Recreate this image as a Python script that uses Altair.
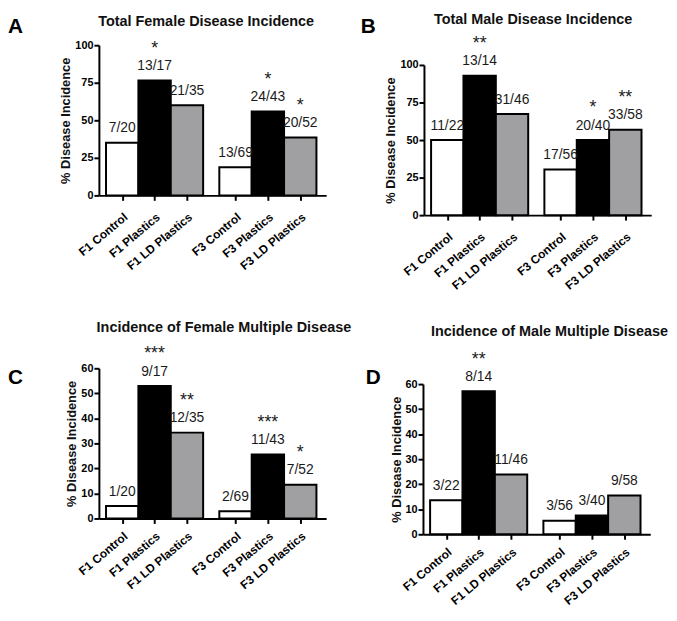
import altair as alt
import pandas as pd

FONT = "Liberation Sans"

categories = ["F1 Control", "F1 Plastics", "F1 LD Plastics",
              "F3 Control", "F3 Plastics", "F3 LD Plastics"]
treatments = ["Control", "Plastics", "LD Plastics",
              "Control", "Plastics", "LD Plastics"]
generations = ["F1", "F1", "F1", "F3", "F3", "F3"]

# Panel A: Total Female Disease Incidence
a_pct = [35.0, 76.5, 60.0, 18.8, 55.8, 38.5]
a_frac = ["7/20", "13/17", "21/35", "13/69", "24/43", "20/52"]
a_sig = ["", "*", "", "", "*", "*"]

# Panel B: Total Male Disease Incidence
b_pct = [50.0, 92.9, 67.4, 30.4, 50.0, 56.9]
b_frac = ["11/22", "13/14", "31/46", "17/56", "20/40", "33/58"]
b_sig = ["", "**", "", "", "*", "**"]

# Panel C: Incidence of Female Multiple Disease
c_pct = [5.0, 52.9, 34.3, 2.9, 25.6, 13.5]
c_frac = ["1/20", "9/17", "12/35", "2/69", "11/43", "7/52"]
c_sig = ["", "***", "**", "", "***", "*"]

# Panel D: Incidence of Male Multiple Disease
d_pct = [13.6, 57.1, 23.9, 5.4, 7.5, 15.5]
d_frac = ["3/22", "8/14", "11/46", "3/56", "3/40", "9/58"]
d_sig = ["", "**", "", "", "", ""]

ticks_total = [0, 25, 50, 75, 100]
ticks_multi = [0, 10, 20, 30, 40, 50, 60]

fill_domain = ["Control", "Plastics", "LD Plastics"]
fill_range = ["white", "black", "#a0a0a2"]

W, PLOT_H = 230, 152
X_DOMAIN = [-0.22, 6.8]

# bar slots: bars in a group touch, half-bar gap between the two generations
starts = [i + (0.5 if g == "F3" else 0.0) for i, g in enumerate(generations)]
centers = [s + 0.5 for s in starts]

label_expr = ""
for c, name in zip(centers[:-1], categories[:-1]):
    label_expr += f"datum.value < {c + 0.25} ? '{name}' : "
label_expr += f"'{categories[-1]}'"


def panel(letter, title, pct, frac, sig, ymax, yticks, top_off,
          title_x, title_y, letter_x, letter_y, label_pad):
    df = pd.DataFrame({
        "cat": categories,
        "treat": treatments,
        "x0": starts,
        "x1": [s + 1 for s in starts],
        "xc": centers,
        "pct": pct,
        "frac": frac,
        "sig": sig,
    })
    H = PLOT_H + top_off
    xs = alt.Scale(domain=X_DOMAIN, nice=False, zero=False)
    ys = alt.Scale(domain=[0, ymax], nice=False, range=[H, top_off])
    x_axis = alt.Axis(
        values=centers, labelExpr=label_expr, labelAngle=-40,
        labelFont=FONT, labelFontWeight="bold", labelFontSize=12,
        labelPadding=label_pad, labelColor="black", tickSize=5, tickWidth=2,
        labelOverlap=False, labelFlush=False, labelBound=False,
        tickColor="black", domainColor="black", domainWidth=2, grid=False)
    y_axis = alt.Axis(
        values=yticks, labelFont=FONT, labelFontWeight="bold", labelFontSize=11,
        labelColor="black", labelPadding=1, tickSize=5, tickWidth=2,
        labelOverlap=False, labelFlush=False,
        tickColor="black", domainColor="black", domainWidth=2, grid=False,
        titleFont=FONT, titleFontSize=13, titleFontWeight="bold",
        titleColor="#111111", titlePadding=2)
    ytitle = "% Disease Incidence"
    base = alt.Chart(df)
    bars = base.mark_bar(stroke="black", strokeWidth=2).encode(
        x=alt.X("x0:Q", scale=xs, title=None, axis=x_axis),
        x2="x1:Q",
        y=alt.Y("pct:Q", scale=ys, stack=None, title=ytitle, axis=y_axis),
        y2=alt.datum(0),
        fill=alt.Fill("treat:N", scale=alt.Scale(domain=fill_domain, range=fill_range), legend=None),
    )
    fr = base.mark_text(font=FONT, fontSize=14, dy=-10.5, baseline="alphabetic",
                        color="#1a1a1a").encode(
        x=alt.X("xc:Q", scale=xs, title=None, axis=x_axis),
        y=alt.Y("pct:Q", scale=ys, title=ytitle, axis=y_axis),
        text="frac:N")
    st = base.mark_text(font=FONT, fontSize=18, dy=-27, baseline="alphabetic",
                        color="#1a1a1a").encode(
        x=alt.X("xc:Q", scale=xs, title=None, axis=x_axis),
        y=alt.Y("pct:Q", scale=ys, title=ytitle, axis=y_axis),
        text="sig:N")
    tdf = pd.DataFrame({"t": [title]})
    tt = alt.Chart(tdf).mark_text(font=FONT, fontSize=14.6, fontWeight="bold",
                                  align="center", baseline="alphabetic", color="#111111").encode(
        x=alt.value(title_x), y=alt.value(title_y), text="t:N")
    ldf = pd.DataFrame({"t": [letter]})
    lt = alt.Chart(ldf).mark_text(font=FONT, fontSize=21, fontWeight="bold",
                                  align="left", baseline="alphabetic", color="black").encode(
        x=alt.value(letter_x), y=alt.value(letter_y), text="t:N")
    return alt.layer(bars, fr, st, tt, lt).properties(width=W, height=H)


pA = panel("A", "Total Female Disease Incidence", a_pct, a_frac, a_sig, 100, ticks_total, 0,
           108.5, -19.5, -92, -12.3, 11)
pB = panel("B", "Total Male Disease Incidence", b_pct, b_frac, b_sig, 100, ticks_total, 20,
           110.5, -21.5, -64, -12.3, 11)
pC = panel("C", "Incidence of Female Multiple Disease", c_pct, c_frac, c_sig, 60, ticks_multi, 0,
           126.5, -36.3, -92, 15.7, 7)
pD = panel("D", "Incidence of Male Multiple Disease", d_pct, d_frac, d_sig, 60, ticks_multi, 16,
           128, -32.8, -58, 15.7, 7)

row1 = alt.hconcat(pA, pB, spacing=35)
row2 = alt.hconcat(pC, pD, spacing=14)
chart = alt.vconcat(row1, row2, spacing=28).properties(padding=0).configure_view(stroke=None)

chart.save("out.html", embed_options={"renderer": "svg", "actions": False})
